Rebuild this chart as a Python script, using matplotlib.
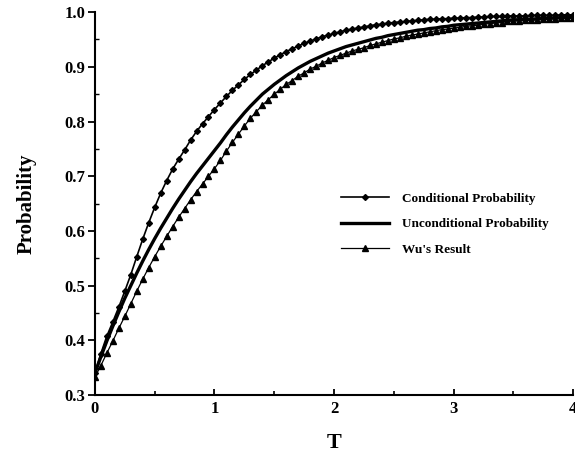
#!/usr/bin/env python3
import numpy as np
import matplotlib
matplotlib.use("Agg")
import matplotlib.pyplot as plt
from matplotlib.ticker import MultipleLocator

plt.rcParams['font.family'] = ['Liberation Serif', 'DejaVu Serif']
plt.rcParams['font.weight'] = 'bold'

# T grid (markers sit every 0.05)
t_values = [round(0.05 * i, 2) for i in range(81)]

conditional = [
    0.340, 0.376, 0.408, 0.434, 0.461, 0.490, 0.520, 0.553, 0.585, 0.615,
    0.643, 0.669, 0.692, 0.713, 0.731, 0.748, 0.766, 0.782, 0.796, 0.809,
    0.822, 0.834, 0.846, 0.857, 0.867, 0.877, 0.886, 0.894, 0.902, 0.909,
    0.916, 0.922, 0.928, 0.933, 0.938, 0.943, 0.947, 0.951, 0.955, 0.958,
    0.961, 0.964, 0.967, 0.969, 0.971, 0.973, 0.975, 0.977, 0.978, 0.980,
    0.981, 0.982, 0.983, 0.984, 0.985, 0.986, 0.987, 0.987, 0.988, 0.988,
    0.989, 0.989, 0.990, 0.990, 0.991, 0.991, 0.992, 0.992, 0.992, 0.993,
    0.993, 0.993, 0.993, 0.994, 0.994, 0.994, 0.994, 0.994, 0.995, 0.995,
    0.995,
]

unconditional = [
    0.340, 0.370, 0.399, 0.426, 0.452, 0.477, 0.500, 0.523, 0.545, 0.566,
    0.586, 0.605, 0.623, 0.641, 0.658, 0.674, 0.690, 0.705, 0.719, 0.733,
    0.747, 0.761, 0.776, 0.790, 0.803, 0.816, 0.828, 0.839, 0.850, 0.859,
    0.868, 0.876, 0.884, 0.891, 0.898, 0.904, 0.910, 0.915, 0.920, 0.925,
    0.929, 0.933, 0.937, 0.940, 0.943, 0.946, 0.949, 0.952, 0.954, 0.957,
    0.959, 0.961, 0.963, 0.965, 0.967, 0.968, 0.970, 0.971, 0.973, 0.974,
    0.976, 0.977, 0.978, 0.979, 0.980, 0.981, 0.982, 0.983, 0.984, 0.985,
    0.986, 0.986, 0.987, 0.987, 0.988, 0.988, 0.989, 0.989, 0.990, 0.990,
    0.991,
]

wu_result = [
    0.333, 0.354, 0.377, 0.399, 0.422, 0.444, 0.467, 0.490, 0.512, 0.533,
    0.553, 0.572, 0.590, 0.608, 0.625, 0.641, 0.657, 0.672, 0.686, 0.700,
    0.714, 0.729, 0.746, 0.762, 0.777, 0.792, 0.806, 0.818, 0.830, 0.840,
    0.850, 0.859, 0.868, 0.875, 0.883, 0.889, 0.896, 0.901, 0.907, 0.912,
    0.917, 0.921, 0.925, 0.929, 0.932, 0.935, 0.939, 0.942, 0.945, 0.948,
    0.951, 0.953, 0.956, 0.958, 0.960, 0.962, 0.964, 0.966, 0.968, 0.969,
    0.971, 0.972, 0.974, 0.975, 0.976, 0.978, 0.979, 0.980, 0.981, 0.983,
    0.984, 0.984, 0.985, 0.985, 0.986, 0.987, 0.988, 0.988, 0.989, 0.989,
    0.990,
]

x_ticks = [0, 1, 2, 3, 4]
y_ticks = [0.3, 0.4, 0.5, 0.6, 0.7, 0.8, 0.9, 1.0]

fig = plt.figure(figsize=(5.75, 4.66), dpi=100)
ax = fig.add_axes([0.165, 0.152, 0.832, 0.822])

ax.plot(t_values, conditional, color='black', lw=1.2, marker='D', ms=3,
        label='Conditional Probability')
ax.plot(t_values, unconditional, color='black', lw=2.4,
        label='Unconditional Probability')
ax.plot(t_values, wu_result, color='black', lw=0.9, marker='^', ms=5,
        label="Wu's Result")

ax.set_xlim(0, 4)
ax.set_ylim(0.3, 1.0)
ax.set_xticks(x_ticks)
ax.set_yticks(y_ticks)
ax.set_xticklabels([str(v) for v in x_ticks])
ax.set_yticklabels(['%.1f' % v for v in y_ticks])
ax.xaxis.set_minor_locator(MultipleLocator(0.5))
ax.yaxis.set_minor_locator(MultipleLocator(0.05))

for side in ['top', 'right']:
    ax.spines[side].set_visible(False)
for side in ['left', 'bottom']:
    ax.spines[side].set_linewidth(1.5)

ax.tick_params(axis='x', which='major', direction='in', length=4, width=1.3,
               labelsize=12, pad=4)
ax.tick_params(axis='x', which='minor', direction='in', length=3, width=1.2)
ax.tick_params(axis='y', which='major', direction='out', length=5, width=1.3,
               labelsize=12, pad=2)
ax.tick_params(axis='y', which='minor', direction='in', length=3, width=1.0)
for lab in ax.get_xticklabels() + ax.get_yticklabels():
    lab.set_fontweight('bold')

ax.set_xlabel('T', fontsize=16, fontweight='bold', labelpad=12)
ax.set_ylabel('Probability', fontsize=15, fontweight='bold', labelpad=20)

leg = ax.legend(loc='upper left', bbox_to_anchor=(0.49, 0.56), frameon=False,
                numpoints=1, handlelength=3.6, handletextpad=1.0,
                labelspacing=1.0, prop={'family': 'Liberation Serif',
                                        'weight': 'bold', 'size': 9.5})

fig.savefig('out.png', dpi=100)
